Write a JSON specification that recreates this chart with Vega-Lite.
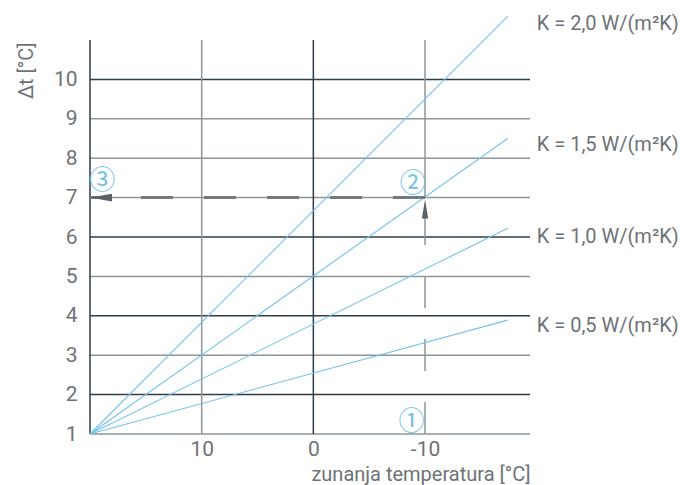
{
  "$schema": "https://vega.github.io/schema/vega-lite/v6.json",
  "width": 440,
  "height": 394,
  "autosize": {"type": "none"},
  "padding": {"left": 90, "top": 40, "right": 150, "bottom": 51},
  "background": "white",
  "config": {
    "view": {"stroke": null},
    "axis": {"domain": false, "ticks": false, "grid": false, "labelFont": "Roboto", "labelColor": "#6d7276", "labelFontSize": 21, "titleFont": "Roboto", "titleColor": "#6d7276", "titleFontWeight": "normal"}
  },
  "layer": [
    {
      "data": {"values": [
        {"dt": 1}, {"dt": 3}, {"dt": 5}, {"dt": 7}, {"dt": 8}, {"dt": 9}
      ]},
      "mark": {"type": "rule", "strokeWidth": 1.5, "color": "#8d969b"},
      "encoding": {
        "y": {"field": "dt", "type": "quantitative", "scale": {"domain": [1, 11], "nice": false, "zero": false}}
      }
    },
    {
      "data": {"values": [
        {"dt": 2}, {"dt": 4}, {"dt": 6}, {"dt": 10}
      ]},
      "mark": {"type": "rule", "strokeWidth": 1.5, "color": "#2f3d46"},
      "encoding": {
        "y": {"field": "dt", "type": "quantitative"}
      }
    },
    {
      "data": {"values": [
        {"t": 10, "dt": 1, "dt2": 11},
        {"t": -10, "dt": 7, "dt2": 11}
      ]},
      "mark": {"type": "rule", "strokeWidth": 1.5, "color": "#8d969b"},
      "encoding": {
        "x": {"field": "t", "type": "quantitative", "scale": {"domain": [-19.4, 20], "reverse": true, "nice": false, "zero": false}},
        "y": {"field": "dt", "type": "quantitative"},
        "y2": {"field": "dt2"}
      }
    },
    {
      "data": {"values": [
        {"t": 20, "dt": 1, "dt2": 11},
        {"t": 0, "dt": 1, "dt2": 11}
      ]},
      "mark": {"type": "rule", "strokeWidth": 1.5, "color": "#2f3d46"},
      "encoding": {
        "x": {"field": "t", "type": "quantitative"},
        "y": {"field": "dt", "type": "quantitative"},
        "y2": {"field": "dt2"}
      }
    },
    {
      "data": {"values": [
        {"t": -10, "dt": 1, "i": 0},
        {"t": -10, "dt": 6.6, "i": 1}
      ]},
      "mark": {"type": "line", "color": "#8d969b", "strokeWidth": 1.5, "strokeDash": [32, 31]},
      "encoding": {
        "x": {"field": "t", "type": "quantitative"},
        "y": {"field": "dt", "type": "quantitative"},
        "order": {"field": "i", "type": "quantitative"}
      }
    },
    {
      "data": {"values": [
        {"K": "0,5", "t": 20, "dt": 1, "t2": -17.4, "dt2": 3.89},
        {"K": "1,0", "t": 20, "dt": 1, "t2": -17.4, "dt2": 6.22},
        {"K": "1,5", "t": 20, "dt": 1, "t2": -17.4, "dt2": 8.5},
        {"K": "2,0", "t": 20, "dt": 1, "t2": -17.4, "dt2": 11.6}
      ]},
      "mark": {"type": "rule", "color": "#74c3e8", "strokeWidth": 1.1},
      "encoding": {
        "x": {
          "field": "t", "type": "quantitative",
          "axis": {
            "values": [10, 0, -10],
            "labelExpr": "'' + datum.value",
            "title": "zunanja temperatura [°C]",
            "titleAnchor": "start",
            "titleAlign": "right",
            "labelPadding": 4,
            "titleFontSize": 20, "titlePadding": 5
          }
        },
        "y": {
          "field": "dt", "type": "quantitative",
          "axis": {
            "values": [1, 2, 3, 4, 5, 6, 7, 8, 9, 10],
            "title": "Δt [°C]",
            "labelPadding": 13,
            "titleFontSize": 20,
            "titleAngle": -90, "titleX": -64, "titleY": 2, "titleAlign": "right", "titleBaseline": "middle"
          }
        },
        "x2": {"field": "t2"},
        "y2": {"field": "dt2"}
      }
    },
    {
      "data": {"values": [
        {"t": -10, "dt": 7, "i": 0},
        {"t": 20, "dt": 7, "i": 1}
      ]},
      "mark": {"type": "line", "color": "#737a7f", "strokeWidth": 3, "strokeDash": [32, 31]},
      "encoding": {
        "x": {"field": "t", "type": "quantitative"},
        "y": {"field": "dt", "type": "quantitative"},
        "order": {"field": "i", "type": "quantitative"}
      }
    },
    {
      "data": {"values": [{"t": 20, "dt": 7}]},
      "mark": {"type": "point", "filled": true, "color": "#5b6166", "opacity": 1, "size": 484, "shape": "M0,0L2,-0.35L2,0.35Z"},
      "encoding": {
        "x": {"field": "t", "type": "quantitative"},
        "y": {"field": "dt", "type": "quantitative"}
      }
    },
    {
      "data": {"values": [{"t": -10, "dt": 6.95}]},
      "mark": {"type": "point", "filled": true, "color": "#5b6166", "opacity": 1, "size": 361, "shape": "M0,0L-0.33,2L0.33,2Z"},
      "encoding": {
        "x": {"field": "t", "type": "quantitative"},
        "y": {"field": "dt", "type": "quantitative"}
      }
    },
    {
      "data": {"values": [
        {"t": 18.9, "dt": 7.42, "n": "③"},
        {"t": -8.9, "dt": 7.35, "n": "②"},
        {"t": -8.8, "dt": 1.3, "n": "①"}
      ]},
      "mark": {"type": "text", "font": "Noto Sans CJK JP", "fontSize": 26, "color": "#6ec0e6", "align": "center", "baseline": "middle"},
      "encoding": {
        "x": {"field": "t", "type": "quantitative"},
        "y": {"field": "dt", "type": "quantitative"},
        "text": {"field": "n"}
      }
    },
    {
      "data": {"values": [
        {"t": -20, "dt": 11.4, "label": "K = 2,0 W/(m²K)"},
        {"t": -20, "dt": 8.33, "label": "K = 1,5 W/(m²K)"},
        {"t": -20, "dt": 5.99, "label": "K = 1,0 W/(m²K)"},
        {"t": -20, "dt": 3.75, "label": "K = 0,5 W/(m²K)"}
      ]},
      "mark": {"type": "text", "font": "Roboto", "fontSize": 20, "color": "#6d7276", "align": "left", "baseline": "middle"},
      "encoding": {
        "x": {"field": "t", "type": "quantitative"},
        "y": {"field": "dt", "type": "quantitative"},
        "text": {"field": "label"}
      }
    }
  ]
}
